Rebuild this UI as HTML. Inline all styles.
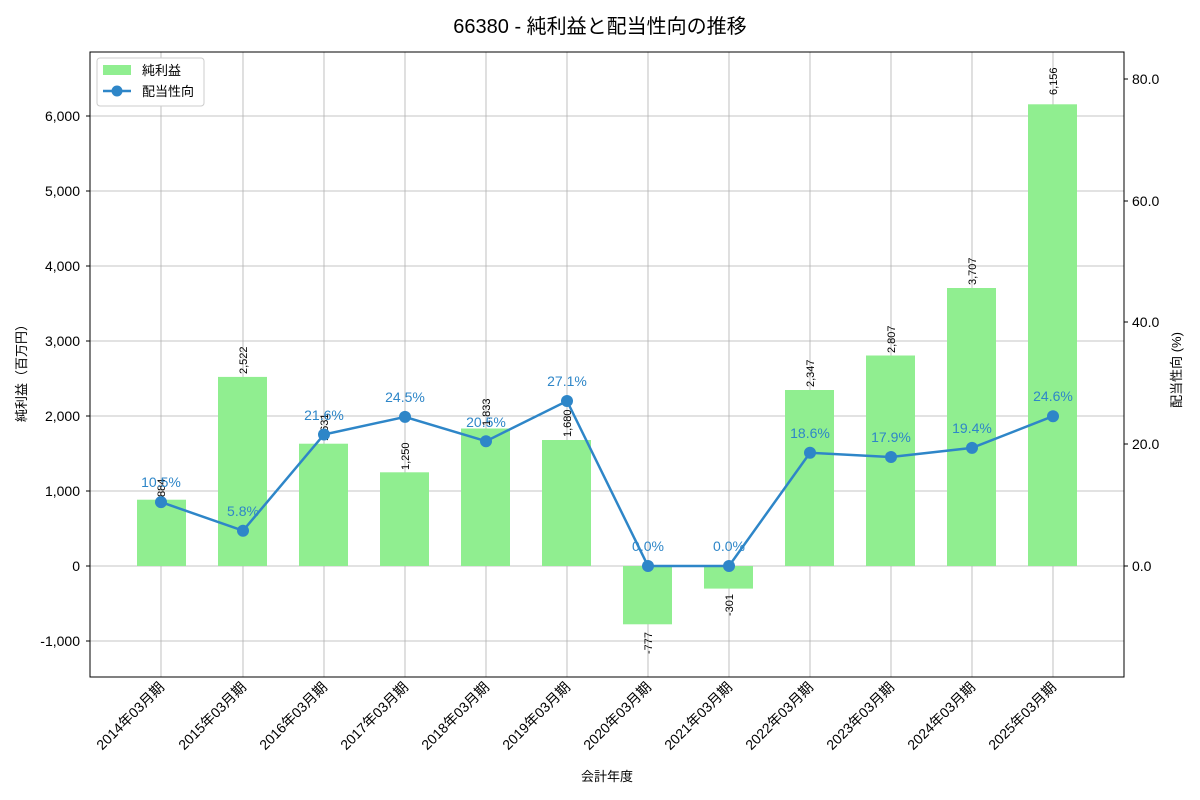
<!DOCTYPE html>
<html><head><meta charset="utf-8"><style>body{margin:0;background:#fff}svg{display:block}text{font-family:"Liberation Sans","Noto Sans CJK JP",sans-serif}</style></head><body>
<svg width="1200" height="800" xmlns="http://www.w3.org/2000/svg">
<text x="600" y="33" text-anchor="middle" font-size="20">66380 - 純利益と配当性向の推移</text>
<g stroke="#b0b0b0" stroke-width="0.8">
<line x1="161" y1="52" x2="161" y2="677"/><line x1="243" y1="52" x2="243" y2="677"/><line x1="324" y1="52" x2="324" y2="677"/><line x1="405" y1="52" x2="405" y2="677"/><line x1="486" y1="52" x2="486" y2="677"/><line x1="567" y1="52" x2="567" y2="677"/><line x1="648" y1="52" x2="648" y2="677"/><line x1="729" y1="52" x2="729" y2="677"/><line x1="810" y1="52" x2="810" y2="677"/><line x1="891" y1="52" x2="891" y2="677"/><line x1="972" y1="52" x2="972" y2="677"/><line x1="1053" y1="52" x2="1053" y2="677"/>
<line x1="90" y1="641" x2="1124" y2="641"/><line x1="90" y1="566" x2="1124" y2="566"/><line x1="90" y1="491" x2="1124" y2="491"/><line x1="90" y1="416" x2="1124" y2="416"/><line x1="90" y1="341" x2="1124" y2="341"/><line x1="90" y1="266" x2="1124" y2="266"/><line x1="90" y1="191" x2="1124" y2="191"/><line x1="90" y1="116" x2="1124" y2="116"/>
</g>
<g fill="#90ee90">
<rect x="137" y="499.7" width="49" height="66.3"/><rect x="218" y="376.9" width="49" height="189.1"/><rect x="299" y="443.7" width="49" height="122.3"/><rect x="380" y="472.3" width="49" height="93.7"/><rect x="461" y="428.5" width="49" height="137.5"/><rect x="542" y="440" width="49" height="126"/><rect x="623" y="566" width="49" height="58.3"/><rect x="704" y="566" width="49" height="22.6"/><rect x="785" y="390" width="49" height="176"/><rect x="866" y="355.5" width="49" height="210.5"/><rect x="947" y="288" width="49" height="278"/><rect x="1028" y="104.3" width="49" height="461.7"/>
</g>
<g font-size="11" fill="#000">
<text transform="translate(165,497) rotate(-90)">884</text>
<text transform="translate(247,374) rotate(-90)">2,522</text>
<text transform="translate(328,441) rotate(-90)">1,631</text>
<text transform="translate(409,470) rotate(-90)">1,250</text>
<text transform="translate(490,426) rotate(-90)">1,833</text>
<text transform="translate(571,437) rotate(-90)">1,680</text>
<text transform="translate(652,654) rotate(-90)">-777</text>
<text transform="translate(733,616) rotate(-90)">-301</text>
<text transform="translate(814,387) rotate(-90)">2,347</text>
<text transform="translate(895,353) rotate(-90)">2,807</text>
<text transform="translate(976,285) rotate(-90)">3,707</text>
<text transform="translate(1057,95) rotate(-90)">6,156</text>
</g>
<polyline fill="none" stroke="#2e86c8" stroke-width="2.5" points="161,502.1 243,530.7 324,434.5 405,416.9 486,441.2 567,401 648,566 729,566 810,452.8 891,457 972,447.9 1053,416.2"/>
<g fill="#2e86c8">
<circle cx="161" cy="502.1" r="6"/><circle cx="243" cy="530.7" r="6"/><circle cx="324" cy="434.5" r="6"/><circle cx="405" cy="416.9" r="6"/><circle cx="486" cy="441.2" r="6"/><circle cx="567" cy="401" r="6"/><circle cx="648" cy="566" r="6"/><circle cx="729" cy="566" r="6"/><circle cx="810" cy="452.8" r="6"/><circle cx="891" cy="457" r="6"/><circle cx="972" cy="447.9" r="6"/><circle cx="1053" cy="416.2" r="6"/>
</g>
<g font-size="14" fill="#2e86c8" text-anchor="middle">
<text x="161" y="487">10.5%</text><text x="243" y="516">5.8%</text><text x="324" y="420">21.6%</text><text x="405" y="402">24.5%</text><text x="486" y="427">20.5%</text><text x="567" y="386">27.1%</text><text x="648" y="551">0.0%</text><text x="729" y="551">0.0%</text><text x="810" y="438">18.6%</text><text x="891" y="442">17.9%</text><text x="972" y="433">19.4%</text><text x="1053" y="401">24.6%</text>
</g>
<rect x="90" y="52" width="1034" height="625" fill="none" stroke="#000" stroke-width="1"/>
<g font-size="14" text-anchor="end">
<text x="80" y="646">-1,000</text><text x="80" y="571">0</text><text x="80" y="496">1,000</text><text x="80" y="421">2,000</text><text x="80" y="346">3,000</text><text x="80" y="271">4,000</text><text x="80" y="196">5,000</text><text x="80" y="121">6,000</text>
</g>
<g stroke="#000"><line x1="86" y1="641" x2="90" y2="641"/><line x1="86" y1="566" x2="90" y2="566"/><line x1="86" y1="491" x2="90" y2="491"/><line x1="86" y1="416" x2="90" y2="416"/><line x1="86" y1="341" x2="90" y2="341"/><line x1="86" y1="266" x2="90" y2="266"/><line x1="86" y1="191" x2="90" y2="191"/><line x1="86" y1="116" x2="90" y2="116"/>
<line x1="1124" y1="566" x2="1128" y2="566"/><line x1="1124" y1="444" x2="1128" y2="444"/><line x1="1124" y1="322" x2="1128" y2="322"/><line x1="1124" y1="201" x2="1128" y2="201"/><line x1="1124" y1="79" x2="1128" y2="79"/></g>
<g font-size="14"><text x="1132" y="571">0.0</text><text x="1132" y="449">20.0</text><text x="1132" y="327">40.0</text><text x="1132" y="206">60.0</text><text x="1132" y="84">80.0</text></g>
<text transform="translate(26,370) rotate(-90)" font-size="13" text-anchor="middle">純利益（百万円）</text>
<text transform="translate(1181,370) rotate(-90)" font-size="13" text-anchor="middle">配当性向 (%)</text>
<text x="607" y="781" font-size="13" text-anchor="middle">会計年度</text>
<g font-size="14" text-anchor="end">
<text transform="translate(165,688) rotate(-45)">2014年03月期</text><text transform="translate(247,688) rotate(-45)">2015年03月期</text><text transform="translate(328,688) rotate(-45)">2016年03月期</text><text transform="translate(409,688) rotate(-45)">2017年03月期</text><text transform="translate(490,688) rotate(-45)">2018年03月期</text><text transform="translate(571,688) rotate(-45)">2019年03月期</text><text transform="translate(652,688) rotate(-45)">2020年03月期</text><text transform="translate(733,688) rotate(-45)">2021年03月期</text><text transform="translate(814,688) rotate(-45)">2022年03月期</text><text transform="translate(895,688) rotate(-45)">2023年03月期</text><text transform="translate(976,688) rotate(-45)">2024年03月期</text><text transform="translate(1057,688) rotate(-45)">2025年03月期</text>
</g>
<rect x="97" y="58" width="107" height="48" fill="#fff" stroke="#ccc" rx="3"/>
<rect x="103" y="65" width="28" height="10" fill="#90ee90"/>
<text x="142" y="75" font-size="13">純利益</text>
<line x1="103" y1="91" x2="131" y2="91" stroke="#2e86c8" stroke-width="2.5"/><circle cx="117" cy="91" r="5.5" fill="#2e86c8"/>
<text x="142" y="96" font-size="13">配当性向</text>
</svg>
</body></html>
